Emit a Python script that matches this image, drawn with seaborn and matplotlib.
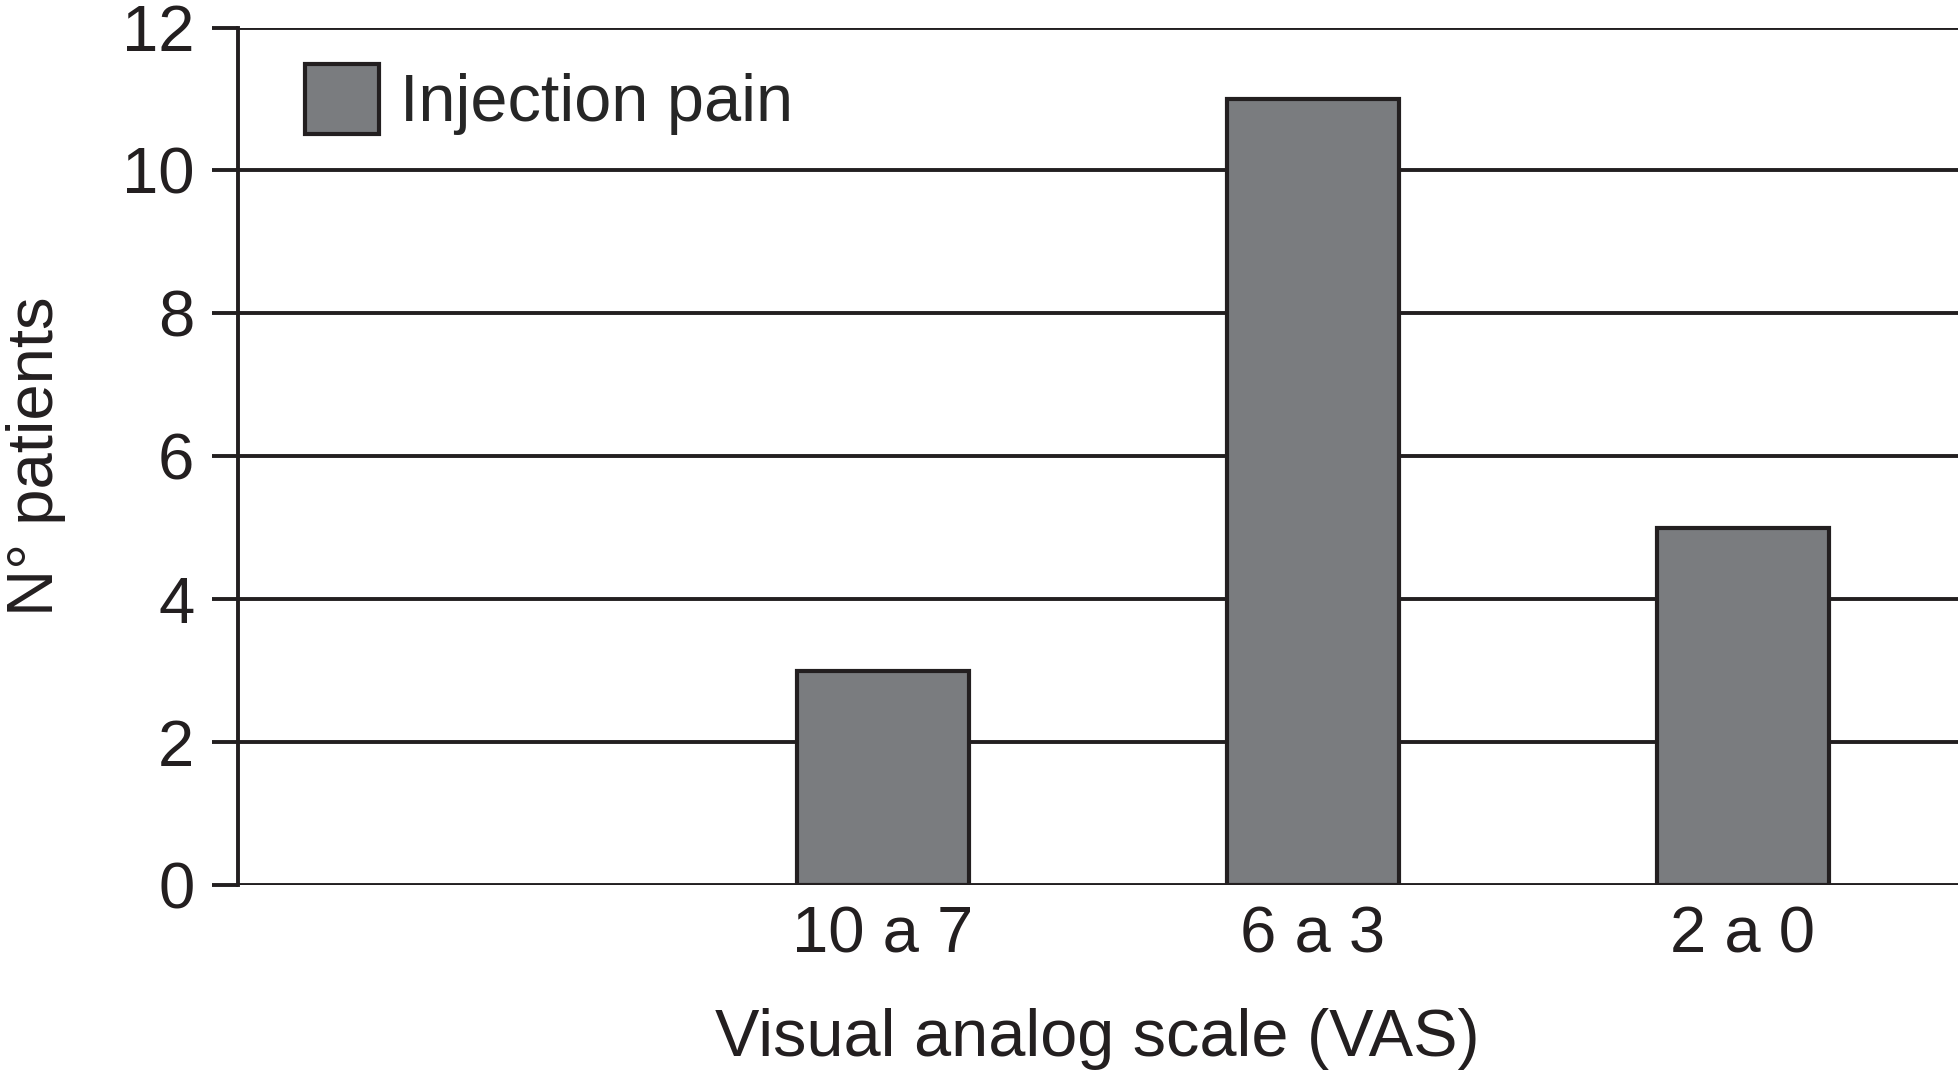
import matplotlib
matplotlib.use("Agg")
import matplotlib.pyplot as plt
import seaborn as sns

# data
categories = ["10 a 7", "6 a 3", "2 a 0"]
patients = [3, 11, 5]
yticks = [0, 2, 4, 6, 8, 10, 12]

sns.set_theme(style="white")
plt.rcParams['font.family'] = ['Liberation Sans', 'DejaVu Sans']
ink = '#231f20'

fig = plt.figure(figsize=(19.6, 10.72), dpi=100, facecolor='white')
ax = fig.add_axes([0.1212, 0.1744, 0.8778, 0.7999])

sns.barplot(
    x=categories, y=patients, ax=ax, color='#7a7c7f', saturation=1,
    width=0.4, edgecolor=ink, linewidth=3.0, label='Injection pain', zorder=3
)

ax.set_xlim(-1.5, 2.5)
ax.set_ylim(0, 12)
ax.set_yticks(yticks)
ax.yaxis.grid(True, color=ink, linewidth=2.8)
ax.set_axisbelow(True)

for side in ['top', 'right', 'bottom']:
    ax.spines[side].set_visible(False)
ax.spines['left'].set_color(ink)
ax.spines['left'].set_linewidth(2.8)

ax.tick_params(axis='y', length=19, width=2.8, color=ink, pad=12,
               labelsize=47, labelcolor=ink, direction='out', left=True)
ax.tick_params(axis='x', length=0, pad=15, labelsize=47, labelcolor=ink)

ax.set_xlabel('Visual analog scale (VAS)', fontsize=48, color=ink, labelpad=30)
ax.set_ylabel('N° patients', fontsize=47, color=ink, labelpad=40)

ax.legend(loc='upper left', bbox_to_anchor=(0.039, 0.958), frameon=False,
          fontsize=48, handlelength=1.12, handleheight=1.25, handletextpad=0.31,
          borderaxespad=0, borderpad=0)

plt.savefig('out.png', dpi=100, facecolor='white')
plt.close(fig)
